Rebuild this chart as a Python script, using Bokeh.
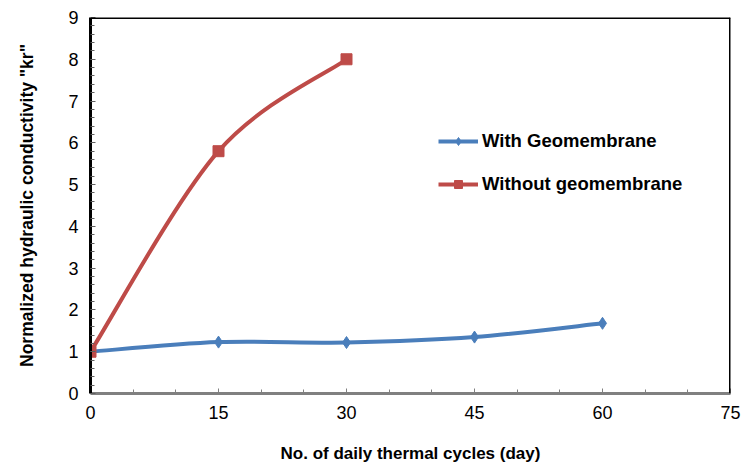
from bokeh.plotting import figure
from bokeh.models import Legend, LegendItem, Span, FixedTicker
from bokeh.embed import file_html
from bokeh.resources import INLINE

days = [0, 15, 30, 45, 60]
with_geo = [1.0, 1.23, 1.22, 1.35, 1.68]
days_without = [0, 15, 30]
without_geo = [1.0, 5.8, 8.0]

x_ticks = [0, 15, 30, 45, 60, 75]
y_ticks = [0, 1, 2, 3, 4, 5, 6, 7, 8, 9]

BLUE = "#4A7EBB"
RED = "#BE4B48"
FONT = "Liberation Sans"

p = figure(width=743, height=470, x_range=(0, 75), y_range=(0, 9),
           output_backend="svg", toolbar_location=None,
           min_border_left=90, min_border_right=13, min_border_top=17, min_border_bottom=77)
p.outline_line_color = None
p.grid.visible = False
p.background_fill_color = "white"


def smooth(xs, ys):
    # Catmull-Rom style control points for a smoothed line (rendering only)
    n = len(xs)
    x0, y0, x1, y1, cx0, cy0, cx1, cy1 = [], [], [], [], [], [], [], []
    for i in range(n - 1):
        pm = max(i - 1, 0)
        pp = min(i + 2, n - 1)
        x0.append(xs[i]); y0.append(ys[i])
        x1.append(xs[i + 1]); y1.append(ys[i + 1])
        cx0.append(xs[i] + (xs[i + 1] - xs[pm]) / 6.0)
        cy0.append(ys[i] + (ys[i + 1] - ys[pm]) / 6.0)
        cx1.append(xs[i + 1] - (xs[pp] - xs[i]) / 6.0)
        cy1.append(ys[i + 1] - (ys[pp] - ys[i]) / 6.0)
    return dict(x0=x0, y0=y0, x1=x1, y1=y1, cx0=cx0, cy0=cy0, cx1=cx1, cy1=cy1)


bb = p.bezier(line_color=BLUE, line_width=4, **smooth(days, with_geo))
rb = p.bezier(line_color=RED, line_width=4, **smooth(days_without, without_geo))

bl = p.scatter(days, with_geo, marker="diamond", size=12, color=BLUE)
rs = p.scatter(days_without, without_geo, marker="square", size=11, color=RED)

legend = Legend(items=[LegendItem(label="With Geomembrane", renderers=[bb, bl]),
                       LegendItem(label="Without geomembrane", renderers=[rb, rs])],
                location=(348, 198), orientation="vertical")
legend.label_text_font = FONT
legend.label_text_font_style = "bold"
legend.label_text_font_size = "18.5px"
legend.label_text_color = "black"
legend.glyph_width = 40
legend.glyph_height = 20
legend.label_height = 20
legend.label_standoff = 4
legend.spacing = 21
legend.padding = 5
legend.margin = 0
legend.border_line_color = None
legend.background_fill_alpha = 0
p.add_layout(legend)

# axes
p.xaxis.ticker = FixedTicker(ticks=x_ticks, minor_ticks=list(range(0, 76, 5)))
p.yaxis.ticker = FixedTicker(ticks=y_ticks, minor_ticks=[i / 5 for i in range(0, 46)])

p.xaxis.axis_label = "No. of daily thermal cycles (day)"
p.yaxis.axis_label = 'Normalized hydraulic conductivity "kr"'
for ax in (p.xaxis[0], p.yaxis[0]):
    ax.axis_label_text_font = FONT
    ax.axis_label_text_font_style = "bold"
    ax.axis_label_text_color = "black"
    ax.major_label_text_font = FONT
    ax.major_label_text_font_size = "18px"
    ax.major_label_text_color = "black"
    ax.major_tick_in = 5
    ax.major_tick_out = 0
    ax.minor_tick_in = 4
    ax.minor_tick_out = 0
    ax.axis_line_width = 3

p.xaxis.axis_label_text_font_size = "17px"
p.xaxis.axis_line_color = "#808080"
p.xaxis.major_tick_line_color = "#808080"
p.xaxis.minor_tick_line_color = "#808080"
p.xaxis.major_label_standoff = 12
p.xaxis.axis_label_standoff = 22

p.yaxis.axis_label_text_font_size = "17.5px"
p.yaxis.axis_line_color = "black"
p.yaxis.major_tick_line_color = "#606060"
p.yaxis.minor_tick_line_color = "#606060"
p.yaxis.major_label_standoff = 12
p.yaxis.axis_label_standoff = 28

p.add_layout(Span(location=9, dimension="width", line_color="black", line_width=3))
p.add_layout(Span(location=75, dimension="height", line_color="black", line_width=3))

open("out.html", "w").write(file_html(p, INLINE))
